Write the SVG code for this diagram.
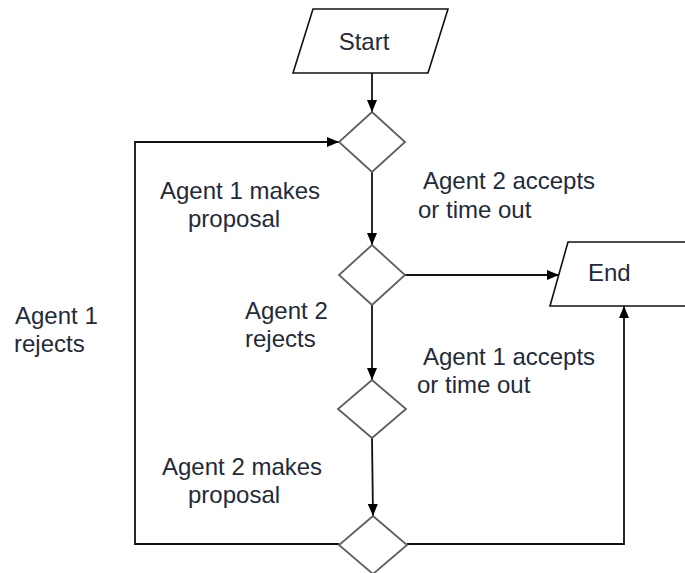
<svg xmlns="http://www.w3.org/2000/svg" width="685" height="573" viewBox="0 0 685 573">
  <defs>
    <marker id="arrow" markerUnits="userSpaceOnUse" markerWidth="12" markerHeight="10" refX="12" refY="5" orient="auto">
      <path d="M0,0 L12,5 L0,10 z" fill="#000"/>
    </marker>
    <style>
      .io { fill: #fff; stroke: #111; stroke-width: 1.6; }
      .decision { fill: #fff; stroke: #5f5f5f; stroke-width: 1.8; }
      .edge { fill: none; stroke: #111; stroke-width: 1.8; }
      .label { font-family: "Liberation Sans", Arial, sans-serif; font-size: 24px; fill: #232a3c; }
    </style>
  </defs>
  <rect width="685" height="573" fill="#fff"/>

  <g id="connectors">
    <line class="edge" x1="372" y1="73" x2="372" y2="112" marker-end="url(#arrow)"/>
    <line class="edge" x1="372" y1="172" x2="372" y2="245" marker-end="url(#arrow)"/>
    <line class="edge" x1="405" y1="275" x2="559" y2="275" marker-end="url(#arrow)"/>
    <line class="edge" x1="372" y1="305" x2="372" y2="380" marker-end="url(#arrow)"/>
    <line class="edge" x1="372" y1="438" x2="373" y2="516" marker-end="url(#arrow)"/>
    <polyline class="edge" points="339,544 135,544 135,142 339,142" marker-end="url(#arrow)"/>
    <polyline class="edge" points="407,544 624,544 624,306" marker-end="url(#arrow)"/>
  </g>

  <g id="start">
    <polygon class="io" points="313,9 448,9 428,73 293,73"/>
    <text class="label" x="364" y="50" text-anchor="middle">Start</text>
  </g>

  <g id="end">
    <polygon class="io" points="568,242 712,242 694,306 550,306"/>
    <text class="label" x="588" y="281">End</text>
  </g>

  <g id="decision-1">
    <polygon class="decision" points="372,112 405,142 372,172 339,142"/>
  </g>
  <g id="decision-2">
    <polygon class="decision" points="372,245 405,275 372,305 339,275"/>
  </g>
  <g id="decision-3">
    <polygon class="decision" points="372,380 406,409 372,438 338,409"/>
  </g>
  <g id="decision-4">
    <polygon class="decision" points="373,516 407,545 373,574 339,545"/>
  </g>

  <g id="labels">
    <text class="label"><tspan x="160" y="199">Agent 1 makes</tspan><tspan x="188" y="227">proposal</tspan></text>
    <text class="label"><tspan x="423" y="189">Agent 2 accepts</tspan><tspan x="418" y="218">or time out</tspan></text>
    <text class="label"><tspan x="15" y="324">Agent 1</tspan><tspan x="14" y="352">rejects</tspan></text>
    <text class="label"><tspan x="245" y="319">Agent 2</tspan><tspan x="245" y="347">rejects</tspan></text>
    <text class="label"><tspan x="423" y="365">Agent 1 accepts</tspan><tspan x="417" y="393">or time out</tspan></text>
    <text class="label"><tspan x="162" y="475">Agent 2 makes</tspan><tspan x="188" y="503">proposal</tspan></text>
  </g>
</svg>
